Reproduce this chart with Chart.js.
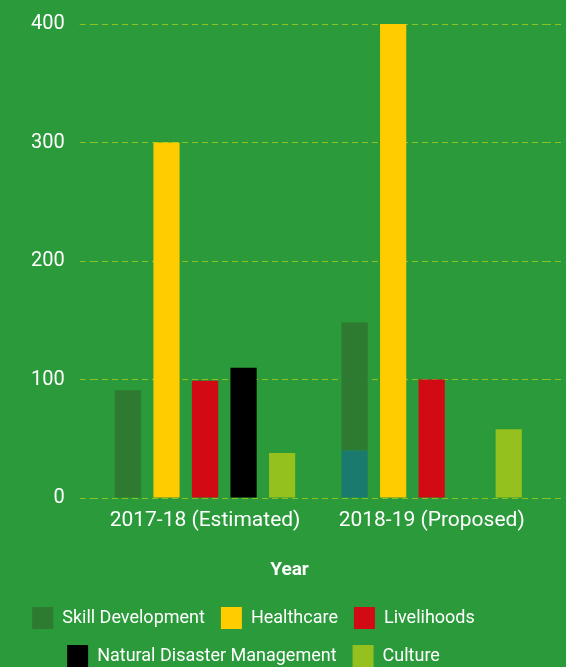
<!DOCTYPE html>
<html>
<head>
<meta charset="utf-8">
<script src="https://cdn.jsdelivr.net/npm/chart.js@4"></script>
<style>
  html, body { margin: 0; padding: 0; background: #2a9a3a; }
  #wrap { width: 566px; height: 667px; position: relative; }
</style>
</head>
<body>
<div id="wrap"><canvas id="budget-chart"></canvas></div>
<script>
// values
const years = ['2017-18 (Estimated)', '2018-19 (Proposed)'];
const skillDevelopment = [91, 148];
const skillInnerPart = [null, 40]; // teal block at the foot of the 2018-19 bar
const healthcare = [300, 400];
const livelihoods = [99, 100];
const disasterManagement = [110, null];
const culture = [38, 58];
const yTicks = [0, 100, 200, 300, 400];

const gridColor = '#8cc21f';
const family = "Roboto, sans-serif";

// the legend in the original sits a little left of centre
const shiftLegend = {
  id: 'shiftLegend',
  afterLayout(chart) {
    chart.legend.left -= 36;
    chart.legend.right -= 36;
  },
};

const ctx = document.getElementById('budget-chart').getContext('2d');
new Chart(ctx, {
  type: 'bar',
  data: {
    labels: years,
    datasets: [
      { label: 'inner', data: skillInnerPart, backgroundColor: '#1b7a6e', stack: 'skill' },
      {
        label: 'Skill Development',
        data: skillDevelopment.map((v, i) => v - (skillInnerPart[i] || 0)),
        backgroundColor: '#2e7a30',
        stack: 'skill',
      },
      { label: 'Healthcare', data: healthcare, backgroundColor: '#ffcc00', stack: 'health' },
      { label: 'Livelihoods', data: livelihoods, backgroundColor: '#d20a14', stack: 'live' },
      { label: 'Natural Disaster Management', data: disasterManagement, backgroundColor: '#000000', stack: 'ndm' },
      { label: 'Culture', data: culture, backgroundColor: '#95c11f', stack: 'culture' },
    ],
  },
  plugins: [shiftLegend],
  options: {
    responsive: true,
    maintainAspectRatio: false,
    animation: false,
    categoryPercentage: 0.85,
    barPercentage: 0.68,
    layout: { padding: { left: 16, right: 3, top: 24, bottom: -10 } },
    plugins: {
      title: {
        display: true,
        position: 'bottom',
        weight: 500,
        text: 'Year',
        color: '#ffffff',
        font: { family: family, size: 19, weight: 'bold' },
        padding: { top: 24, bottom: 9 },
      },
      legend: {
        position: 'bottom',
        labels: {
          color: '#ffffff',
          font: { family: family, size: 18 },
          boxWidth: 21,
          boxHeight: 22,
          padding: 16,
          filter: (item) => item.text !== 'inner',
        },
      },
      tooltip: { enabled: false },
    },
    scales: {
      x: {
        stacked: true,
        grid: { display: false },
        border: { display: false },
        ticks: { color: '#ffffff', font: { family: family, size: 21 }, padding: 2 },
      },
      y: {
        stacked: true,
        min: 0,
        max: 400,
        afterBuildTicks: (axis) => { axis.ticks = yTicks.map((v) => ({ value: v })); },
        afterFit: (axis) => { axis.paddingTop = 0; },
        border: { display: false, dash: [6, 4] },
        grid: {
          color: gridColor,
          tickLength: 12,
          tickColor: gridColor,
          tickBorderDash: [6, 4],
        },
        ticks: { color: '#ffffff', font: { family: family, size: 20 }, padding: 15 },
      },
      yRight: {
        position: 'right',
        min: 0,
        max: 400,
        afterBuildTicks: (axis) => { axis.ticks = yTicks.map((v) => ({ value: v })); },
        afterFit: (axis) => { axis.paddingTop = 0; },
        border: { display: false },
        grid: {
          drawOnChartArea: false,
          tickLength: 18,
          tickColor: gridColor,
          tickBorderDash: [6, 4],
        },
        ticks: { display: false },
      },
    },
  },
});
</script>
</body>
</html>
